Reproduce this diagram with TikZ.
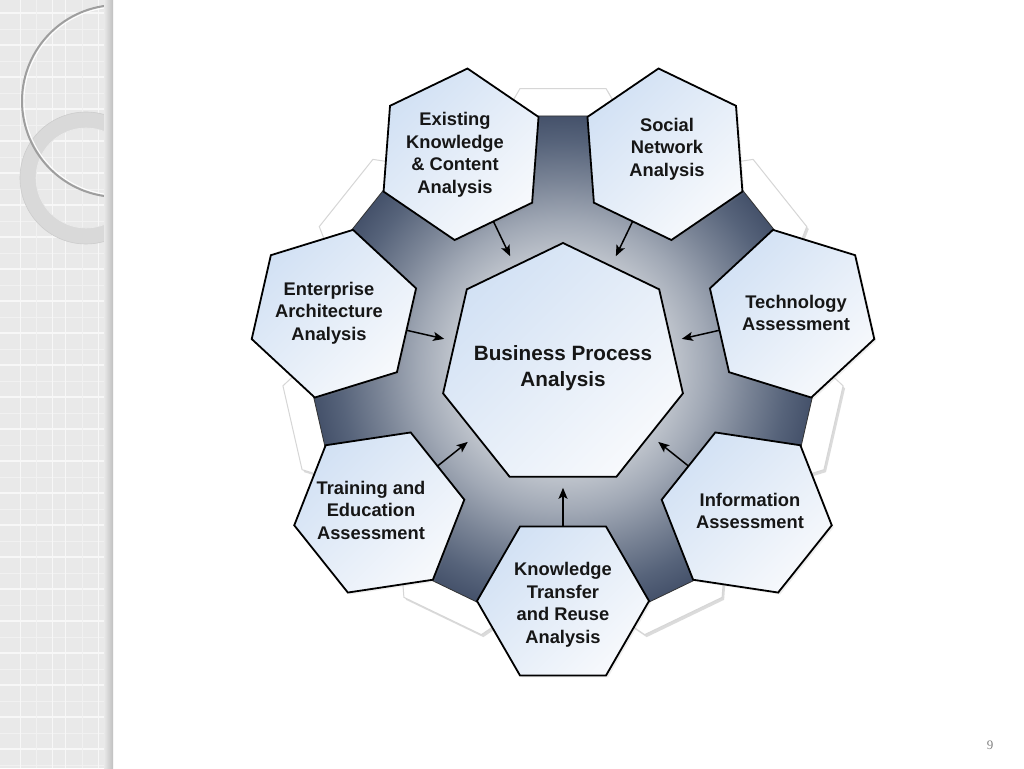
\documentclass[tikz,border=0pt]{standalone}
\usepackage{fontspec}
\setmainfont{Liberation Sans}
\newfontfamily\pagefont{Liberation Serif}
\usetikzlibrary{shapes.geometric,arrows.meta,shadows,calc}
\definecolor{hexblue}{RGB}{210,225,244}
\definecolor{hexwhite}{RGB}{247,249,252}
\definecolor{txt}{RGB}{22,22,22}
\definecolor{stripbg}{RGB}{233,233,233}
\pgfdeclareradialshading{bandshade}{\pgfpoint{0bp}{0bp}}{%
  rgb(0bp)=(0.84,0.86,0.88);
  rgb(9.5bp)=(0.76,0.78,0.81);
  rgb(13bp)=(0.63,0.66,0.71);
  rgb(16.5bp)=(0.48,0.52,0.59);
  rgb(20bp)=(0.34,0.39,0.48);
  rgb(23bp)=(0.25,0.30,0.40);
  rgb(50bp)=(0.24,0.29,0.39)}
\tikzset{
  hexbox/.style={regular polygon, regular polygon sides=6, minimum size=172pt,
    inner sep=0pt, outer sep=0pt, draw=black, line width=1.8pt,
    top color=hexblue, bottom color=hexwhite, shading angle=45,
    drop shadow={shadow xshift=2pt, shadow yshift=-2pt, opacity=0.12}},
  backhex/.style={regular polygon, regular polygon sides=6, minimum size=172pt,
    inner sep=0pt, outer sep=0pt, fill=white, draw=black!16, line width=1pt,
    drop shadow={shadow xshift=2pt, shadow yshift=-2.5pt, opacity=0.28}},
  centerbox/.style={regular polygon, regular polygon sides=7, minimum size=246pt,
    inner sep=0pt, outer sep=0pt, draw=black, line width=1.8pt,
    top color=hexblue, bottom color=hexwhite, shading angle=45},
  bandpoly/.style={regular polygon, regular polygon sides=7, minimum size=555pt,
    shape border rotate=180, inner sep=0pt, outer sep=0pt, draw=black!80, line width=0.8pt},
  lbl/.style={font=\bfseries\fontsize{18.3}{22.5}\selectfont, align=center, text=txt, inner sep=0pt},
  clbl/.style={font=\bfseries\fontsize{20.7}{26}\selectfont, align=center, text=txt, inner sep=0pt},
  arr/.style={-{Stealth[length=11pt,width=9pt,inset=2.5pt]}, line width=1.5pt, black, shorten >=11pt}
}
\begin{document}
\begin{tikzpicture}[x=1pt,y=1pt]
\useasboundingbox (0,0) rectangle (1024,768);
\fill[white] (0,0) rectangle (1024,768);
% left decorative strip
\fill[stripbg] (0,0) rectangle (113,768);
\foreach \y in {3,35,...,767} \draw[white!35!stripbg, line width=0.6pt] (0,\y) -- (110,\y);
\foreach \y in {19,51,...,767} \draw[white!65!stripbg, line width=1.2pt] (0,\y) -- (110,\y);
\foreach \x in {20,52,65,98} \draw[white!65!stripbg, line width=1pt] (\x,0) -- (\x,768);
\foreach \x in {36,82} \draw[white!35!stripbg, line width=0.6pt] (\x,0) -- (\x,768);
\begin{scope}
  \clip (0,0) rectangle (110,768);
  \draw[black!15, line width=16pt] (86,590) circle (58pt);
  \draw[black!20, line width=0.6pt] (86,590) circle (66pt);
  \draw[black!8, line width=0.6pt] (86,590) circle (50pt);
  \draw[black!38, line width=2pt] (118,667) circle (96pt);
  \draw[white, line width=0.9pt] (118,667) circle (94pt);
\end{scope}
\shade[left color=stripbg, right color=black!25] (104,0) rectangle (113,768);
% centre coordinate
\coordinate (C) at (563,402);
% background white hexagons
\foreach \a/\r [count=\i] in {90/120, 141.43/171.43, 192.86/222.86, 244.29/274.29, 295.71/325.71, 347.14/17.14, 38.57/68.57}
  \node[backhex, shape border rotate=\r] (bh\i) at ($(C)+(\a:203pt)$) {};
% dark band
\node[bandpoly, path picture={\shade[shading=bandshade] (C) circle (280pt);}] (band) at (C) {};
% outer hexagons
\node[hexbox, shape border rotate=300]   (kt) at ($(C)+(270:235pt)$) {};
\node[hexbox, shape border rotate=351.43] (ia) at ($(C)+(321.43:235pt)$) {};
\node[hexbox, shape border rotate=42.86] (ta) at ($(C)+(12.86:235pt)$) {};
\node[hexbox, shape border rotate=94.29] (sn) at ($(C)+(64.29:235pt)$) {};
\node[hexbox, shape border rotate=145.71] (ek) at ($(C)+(115.71:235pt)$) {};
\node[hexbox, shape border rotate=197.14] (ea) at ($(C)+(167.14:235pt)$) {};
\node[hexbox, shape border rotate=248.57] (te) at ($(C)+(218.57:235pt)$) {};
% centre heptagon
\node[centerbox] (bp) at (C) {};
% arrows
\foreach \h in {kt,ia,ta,sn,ek,ea,te} \draw[arr] (\h) -- (bp);
% labels
\node[clbl] (tbp) at (563,400) {Business Process\\Analysis};
\node[lbl] (tek) at (455,613) {Existing\\Knowledge\\\& Content\\Analysis};
\node[lbl] (tsn) at (667,619) {Social\\Network\\Analysis};
\node[lbl] (tta) at (796,455) {Technology\\Assessment};
\node[lbl] (tia) at (750,257) {Information\\Assessment};
\node[lbl] (tkt) at (563,163) {Knowledge\\Transfer\\and Reuse\\Analysis};
\node[lbl] (tte) at (371,258) {Training and\\Education\\Assessment};
\node[lbl] (tea) at (329,455) {Enterprise\\Architecture\\Analysis};
% page number
\node[font=\pagefont\fontsize{13}{13}\selectfont, text=black!50] (pnum) at (990,23) {9};
\end{tikzpicture}
\end{document}
